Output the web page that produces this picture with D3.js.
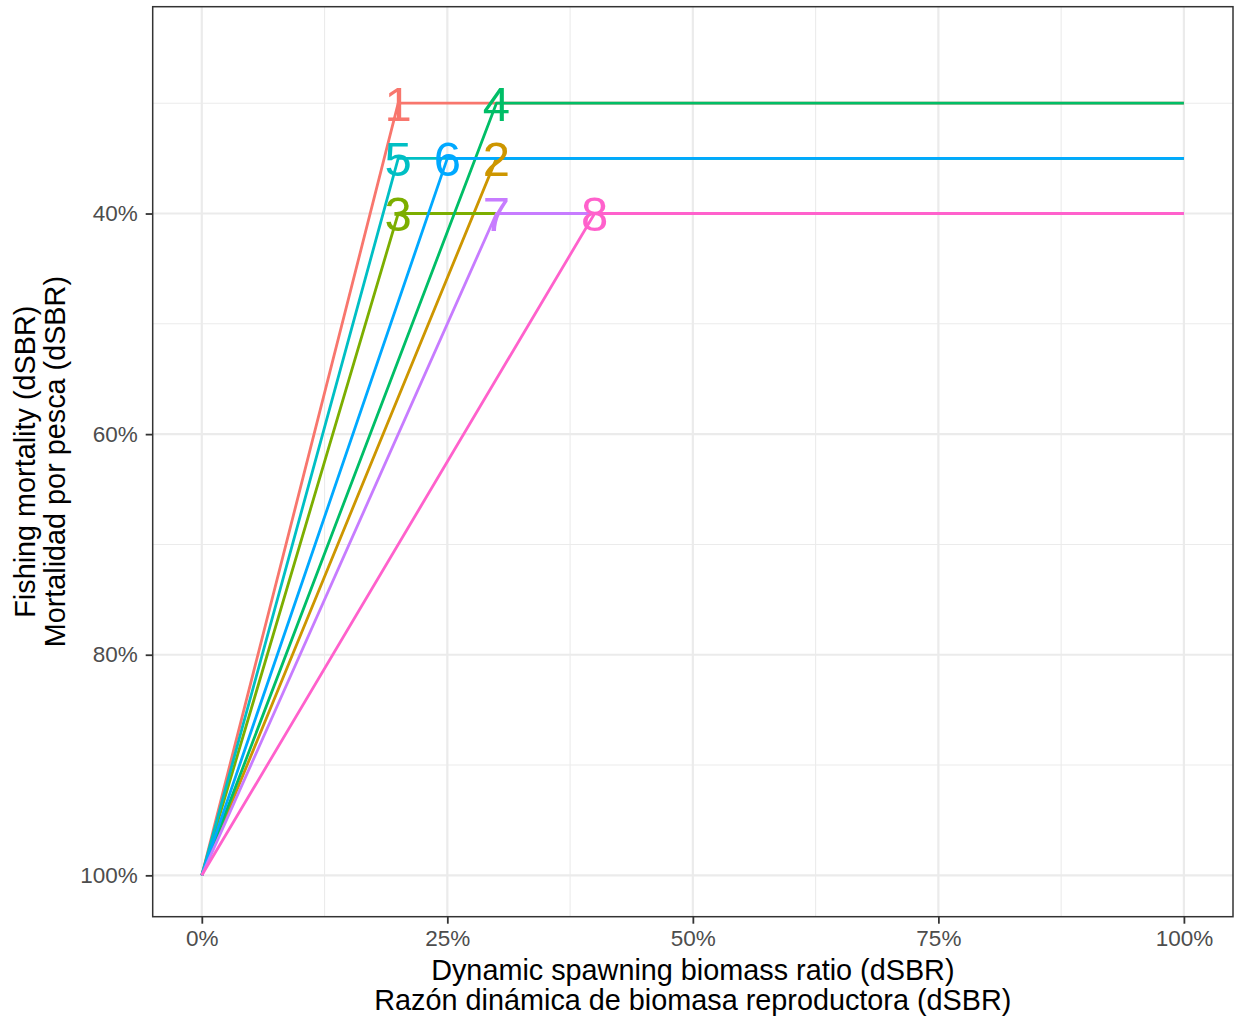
<!DOCTYPE html>
<html>
<head>
<meta charset="utf-8">
<script src="https://cdn.jsdelivr.net/npm/d3@7"></script>
<style>
  html, body { margin: 0; padding: 0; background: #ffffff; }
  svg { display: block; font-family: "Liberation Sans", Arial, sans-serif; }
</style>
</head>
<body>
<svg id="chart" width="1238" height="1020"></svg>
<script>
// ---- data ----
const hcrLabels = ["1", "2", "3", "4", "5", "6", "7", "8"];
const breakpointX = [20, 30, 20, 30, 20, 25, 30, 40];   // dSBR (%) at which the ceiling is reached
const ceilingY    = [30, 35, 40, 30, 35, 35, 40, 40];   // fishing mortality (dSBR %) ceiling
const originX = 0, originY = 100, endX = 100;
const hcrColors = ["#F8766D", "#CD9600", "#7CAE00", "#00BE67", "#00BFC4", "#00A9FF", "#C77CFF", "#FF61CC"];
const xMajorTicks = [0, 25, 50, 75, 100];
const xMinorTicks = [12.5, 37.5, 62.5, 87.5];
const yMajorTicks = [40, 60, 80, 100];
const yMinorTicks = [30, 50, 70, 90];
const xTitle = ["Dynamic spawning biomass ratio (dSBR)", "Razón dinámica de biomasa reproductora (dSBR)"];
const yTitle = ["Fishing mortality (dSBR)", "Mortalidad por pesca (dSBR)"];

// ---- layout ----
const panel = { left: 152.7, right: 1233, top: 6.7, bottom: 916.7 };
const svg = d3.select("#chart");

const x = d3.scaleLinear().domain([-5, 105]).range([panel.left, panel.right]);
const y = d3.scaleLinear().domain([21.25, 103.75]).range([panel.top, panel.bottom]);

const g = svg.append("g");

g.append("rect")
  .attr("x", panel.left).attr("y", panel.top)
  .attr("width", panel.right - panel.left).attr("height", panel.bottom - panel.top)
  .attr("fill", "#ffffff");

// minor grid
g.selectAll(".xminor").data(xMinorTicks).join("line")
  .attr("x1", d => x(d)).attr("x2", d => x(d))
  .attr("y1", panel.top).attr("y2", panel.bottom)
  .attr("stroke", "#EBEBEB").attr("stroke-width", 1.1);
g.selectAll(".yminor").data(yMinorTicks).join("line")
  .attr("y1", d => y(d)).attr("y2", d => y(d))
  .attr("x1", panel.left).attr("x2", panel.right)
  .attr("stroke", "#EBEBEB").attr("stroke-width", 1.1);
// major grid
g.selectAll(".xmajor").data(xMajorTicks).join("line")
  .attr("x1", d => x(d)).attr("x2", d => x(d))
  .attr("y1", panel.top).attr("y2", panel.bottom)
  .attr("stroke", "#EBEBEB").attr("stroke-width", 2.2);
g.selectAll(".ymajor").data(yMajorTicks).join("line")
  .attr("y1", d => y(d)).attr("y2", d => y(d))
  .attr("x1", panel.left).attr("x2", panel.right)
  .attr("stroke", "#EBEBEB").attr("stroke-width", 2.2);

// HCR lines
const hcrData = hcrLabels.map((lab, i) => ({
  label: lab,
  color: hcrColors[i],
  pts: [[originX, originY], [breakpointX[i], ceilingY[i]], [endX, ceilingY[i]]]
}));
const line = d3.line().x(d => x(d[0])).y(d => y(d[1]));
g.selectAll(".hcr").data(hcrData).join("path")
  .attr("d", d => line(d.pts))
  .attr("fill", "none")
  .attr("stroke", d => d.color)
  .attr("stroke-width", 2.8)
  .attr("stroke-linejoin", "round");

// labels
g.selectAll(".lab").data(hcrData).join("text")
  .attr("x", d => x(d.pts[1][0]))
  .attr("y", d => y(d.pts[1][1]))
  .attr("dy", "0.355em")
  .attr("text-anchor", "middle")
  .attr("font-size", 49)
  .attr("fill", d => d.color)
  .text(d => d.label);

// panel border
g.append("rect")
  .attr("x", panel.left).attr("y", panel.top)
  .attr("width", panel.right - panel.left).attr("height", panel.bottom - panel.top)
  .attr("fill", "none").attr("stroke", "#333333").attr("stroke-width", 1.5);

// axes
const xAxis = d3.axisBottom(x).tickValues(xMajorTicks).tickFormat(d => d + "%").tickSize(7).tickPadding(6);
const yAxis = d3.axisLeft(y).tickValues(yMajorTicks).tickFormat(d => d + "%").tickSize(7).tickPadding(8);

const xa = svg.append("g").attr("transform", `translate(0,${panel.bottom})`).call(xAxis);
const ya = svg.append("g").attr("transform", `translate(${panel.left},0)`).call(yAxis);
[xa, ya].forEach(a => {
  a.select(".domain").remove();
  a.selectAll(".tick line").attr("stroke", "#333333").attr("stroke-width", 1.8);
  a.selectAll(".tick text").attr("fill", "#4D4D4D").attr("font-size", 22.5)
    .attr("font-family", "'Liberation Sans', Arial, sans-serif");
});

// axis titles
const cx = (panel.left + panel.right) / 2;
svg.append("text").attr("x", cx).attr("y", 979.5).attr("text-anchor", "middle")
  .attr("font-size", 28.8).attr("fill", "#000").text(xTitle[0]);
svg.append("text").attr("x", cx).attr("y", 1010).attr("text-anchor", "middle")
  .attr("font-size", 28.8).attr("fill", "#000").text(xTitle[1]);

const cy = (panel.top + panel.bottom) / 2;
svg.append("text").attr("transform", `translate(35,${cy}) rotate(-90)`).attr("text-anchor", "middle")
  .attr("font-size", 28.8).attr("fill", "#000").text(yTitle[0]);
svg.append("text").attr("transform", `translate(65,${cy}) rotate(-90)`).attr("text-anchor", "middle")
  .attr("font-size", 28.8).attr("fill", "#000").text(yTitle[1]);
</script>
</body>
</html>
